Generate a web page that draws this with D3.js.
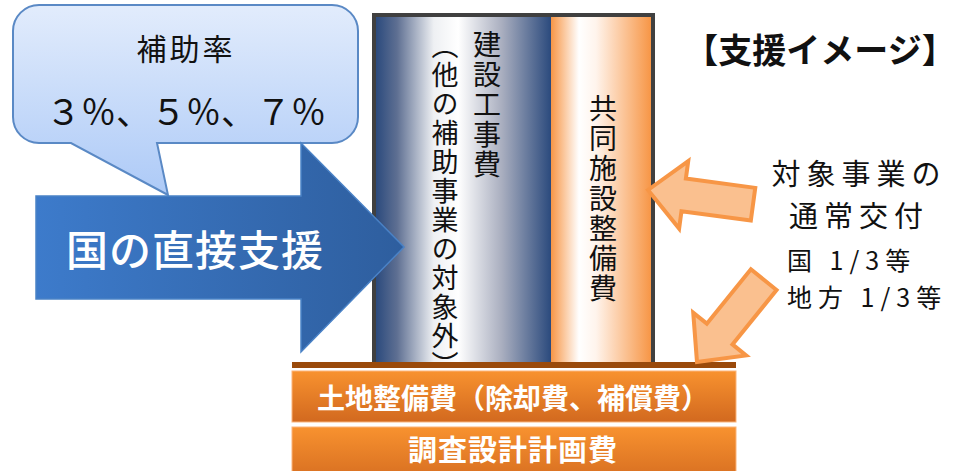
<!DOCTYPE html>
<html>
<head>
<meta charset="utf-8">
<script src="https://cdn.jsdelivr.net/npm/d3@7"></script>
<style>
  body { margin: 0; background: #fff; }
  svg { display: block; font-family: "Noto Sans CJK JP", "Noto Sans", sans-serif; }
</style>
</head>
<body>
<svg id="chart" width="961" height="471"></svg>
<script>
// labels of the diagram
var bubbleLines = ['補助率', '３％、５％、７％'];
var arrowLabel = '国の直接支援';
var columnLabels = ['（他の補助事業の対象外）', '建設工事費', '共同施設整備費'];
var baseRows = ['土地整備費（除却費、補償費）', '調査設計計画費'];
var title = '【支援イメージ】';
var normalAid = ['対象事業の', '通常交付'];
var shareLines = ['国  1/3等', '地方 1/3等'];

var svg = d3.select('#chart');
var defs = svg.append('defs');

function grad(id, stops, vertical) {
  var g = defs.append('linearGradient').attr('id', id)
    .attr('x1', 0).attr('y1', 0)
    .attr('x2', vertical ? 0 : 1).attr('y2', vertical ? 1 : 0);
  stops.forEach(function(s) {
    g.append('stop').attr('offset', s[0]).attr('stop-color', s[1]);
  });
}
grad('bubbleG', [[0, '#e2ecfc'], [1, '#adcaf7']], true);
grad('arrowG', [[0, '#3d7bcb'], [1, '#2e5e9e']], false);
grad('navyG', [[0, '#2b4a7d'], [0.12, '#5e6f92'], [0.33, '#eef0f3'], [0.47, '#ffffff'], [0.72, '#a9aebf'], [1, '#2b4a7d']], false);
grad('orangeG', [[0, '#f79646'], [0.28, '#ffffff'], [0.45, '#fff4ec'], [1, '#f79646']], false);
grad('boxG', [[0, '#f8922f'], [1, '#d2691f']], true);

// column (outer frame)
svg.append('rect').attr('x', 372).attr('y', 13).attr('width', 283).attr('height', 352)
  .attr('fill', '#404040');
svg.append('rect').attr('x', 376).attr('y', 17).attr('width', 175).attr('height', 348)
  .attr('fill', 'url(#navyG)');
svg.append('rect').attr('x', 551).attr('y', 17).attr('width', 100).attr('height', 348)
  .attr('fill', 'url(#orangeG)');

// vertical column texts
var colPos = [[445, 32, 27, 2], [487, 30, 28, 2], [603, 94, 28, 2]];
svg.selectAll('text.col')
  .data(columnLabels)
  .enter()
  .append('text')
  .classed('col', true)
  .attr('x', function(d, i) { return colPos[i][0]; })
  .attr('y', function(d, i) { return colPos[i][1]; })
  .style('writing-mode', 'vertical-rl')
  .style('letter-spacing', function(d, i) { return colPos[i][3] + 'px'; })
  .attr('font-size', function(d, i) { return colPos[i][2]; })
  .attr('fill', '#111')
  .text(function(d) { return d; });

// brown line and base boxes
svg.append('rect').attr('x', 292).attr('y', 362).attr('width', 444).attr('height', 6)
  .attr('fill', '#9a4a0b');
var boxY = [371, 427];
svg.selectAll('rect.base')
  .data(baseRows)
  .enter()
  .append('rect')
  .classed('base', true)
  .attr('x', 292)
  .attr('y', function(d, i) { return boxY[i]; })
  .attr('width', 444)
  .attr('height', function(d, i) { return i ? 60 : 51; })
  .attr('fill', 'url(#boxG)')
  .attr('stroke', '#fbb47a')
  .attr('stroke-width', 1);
svg.selectAll('text.base')
  .data(baseRows)
  .enter()
  .append('text')
  .classed('base', true)
  .attr('x', 513)
  .attr('y', function(d, i) { return boxY[i] + (i ? 34 : 38); })
  .attr('text-anchor', 'middle')
  .attr('font-size', function(d, i) { return i ? 29 : 28; })
  .attr('font-weight', 'bold')
  .style('letter-spacing', function(d, i) { return i ? '1px' : '0px'; })
  .attr('fill', '#fff')
  .text(function(d) { return d; });

// callout bubble
var bubble = d3.path();
var bx0 = 13, by0 = 5, bx1 = 358, by1 = 143, r = 26;
bubble.moveTo(bx0 + r, by0);
bubble.lineTo(bx1 - r, by0);
bubble.arcTo(bx1, by0, bx1, by0 + r, r);
bubble.lineTo(bx1, by1 - r);
bubble.arcTo(bx1, by1, bx1 - r, by1, r);
bubble.lineTo(157, by1);
bubble.lineTo(168, 195);
bubble.lineTo(71, by1);
bubble.lineTo(bx0 + r, by1);
bubble.arcTo(bx0, by1, bx0, by1 - r, r);
bubble.lineTo(bx0, by0 + r);
bubble.arcTo(bx0, by0, bx0 + r, by0, r);
bubble.closePath();
svg.append('path').attr('d', bubble.toString())
  .attr('fill', 'url(#bubbleG)').attr('stroke', '#5a89c5').attr('stroke-width', 2);

svg.selectAll('text.bub')
  .data(bubbleLines)
  .enter()
  .append('text')
  .classed('bub', true)
  .attr('x', 186)
  .attr('y', function(d, i) { return i ? 125 : 60; })
  .attr('text-anchor', 'middle')
  .attr('font-size', function(d, i) { return i ? 35 : 30; })
  .style('letter-spacing', function(d, i) { return i ? '0px' : '3px'; })
  .attr('fill', '#111')
  .text(function(d) { return d; });

// big blue arrow
var arrowPts = [[36, 196], [301, 196], [301, 143], [404, 247], [301, 352], [301, 299], [36, 299]];
svg.append('path')
  .attr('d', d3.line()(arrowPts) + 'Z')
  .attr('fill', 'url(#arrowG)')
  .attr('stroke', '#4a82c6')
  .attr('stroke-width', 1.5);
svg.append('text')
  .attr('x', 195).attr('y', 266)
  .attr('text-anchor', 'middle')
  .attr('font-size', 42)
  .attr('font-weight', 500)
  .style('letter-spacing', '1px')
  .attr('fill', '#fff')
  .text(arrowLabel);

// title and normal grant labels
svg.append('text')
  .attr('x', 820).attr('y', 63)
  .attr('text-anchor', 'middle')
  .attr('font-size', 34)
  .attr('font-weight', 'bold')
  .attr('fill', '#111')
  .text(title);

svg.selectAll('text.aid')
  .data(normalAid)
  .enter()
  .append('text')
  .classed('aid', true)
  .attr('x', 859)
  .attr('y', function(d, i) { return 185 + i * 42; })
  .attr('text-anchor', 'middle')
  .attr('font-size', 29)
  .style('letter-spacing', '6px')
  .attr('fill', '#111')
  .text(function(d) { return d; });

svg.selectAll('text.share')
  .data(shareLines)
  .enter()
  .append('text')
  .classed('share', true)
  .attr('x', 787)
  .attr('y', function(d, i) { return 270 + i * 37; })
  .attr('font-size', 25)
  .style('letter-spacing', '6px')
  .attr('fill', '#111')
  .text(function(d) { return d; });

// orange arrows (local shape points left, tip at origin)
var smallArrow = [[0, 0], [36, -34], [36, -16.5], [106, -16.5], [106, 16.5], [36, 16.5], [36, 34]];
var smallPlace = [[648, 190, 7.7], [697, 362, -51]];
svg.selectAll('path.small')
  .data(smallPlace)
  .enter()
  .append('path')
  .classed('small', true)
  .attr('d', d3.line()(smallArrow) + 'Z')
  .attr('transform', function(d) { return 'translate(' + d[0] + ',' + d[1] + ') rotate(' + d[2] + ')'; })
  .attr('fill', '#fac08f')
  .attr('stroke', '#f79646')
  .attr('stroke-width', 4)
  .attr('stroke-linejoin', 'miter');
</script>
</body>
</html>
